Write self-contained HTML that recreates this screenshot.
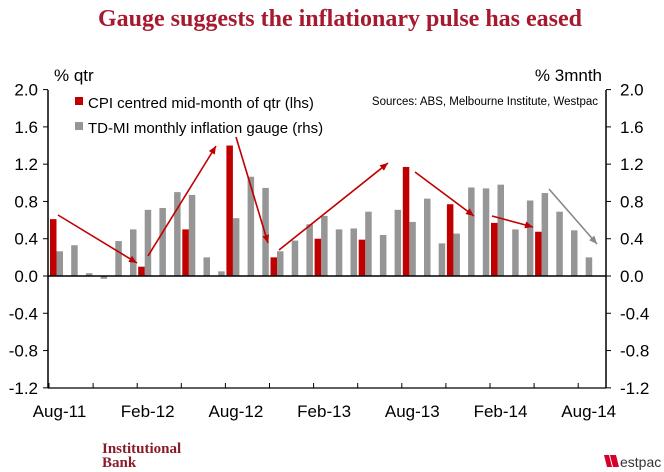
<!DOCTYPE html>
<html><head><meta charset="utf-8"><style>
body{margin:0;background:#fff;width:664px;height:472px;overflow:hidden}
svg{display:block;font-family:"Liberation Sans",sans-serif}
</style></head><body>
<svg id="chart" width="664" height="472">
<text x="340" y="26" text-anchor="middle" font-family="Liberation Serif" font-weight="bold" font-size="24" fill="#a6192e">Gauge suggests the inflationary pulse has eased</text>
<text x="54" y="81" font-size="17">% qtr</text>
<text x="602" y="81" font-size="17" text-anchor="end">% 3mnth</text>
<text x="598" y="105" font-size="11.5" text-anchor="end">Sources: ABS, Melbourne Institute, Westpac</text>
<rect x="75" y="97" width="8" height="8" fill="#c00000"/>
<text x="88" y="108" font-size="15">CPI centred mid-month of qtr (lhs)</text>
<rect x="75" y="122" width="8" height="8" fill="#969696"/>
<text x="88" y="133" font-size="15">TD-MI monthly inflation gauge (rhs)</text>
<g id="g"></g>
<text x="102" y="453" font-family="Liberation Serif" font-weight="bold" font-size="15" fill="#8b1a2b">Institutional</text>
<text x="102" y="467" font-family="Liberation Serif" font-weight="bold" font-size="15" fill="#8b1a2b">Bank</text>
<g><polygon points="604,455 609,455 612,467 607,467" fill="#d5002b"/><polygon points="610,455 616,455 619,467 613,467" fill="#d5002b"/><text x="620" y="467" font-size="14" fill="#333">estpac</text></g>
</svg>
<script>
const xLabels=["Aug-11","Feb-12","Aug-12","Feb-13","Aug-13","Feb-14","Aug-14"];
const ticks=[2.0,1.6,1.2,0.8,0.4,0.0,-0.4,-0.8,-1.2];
const cpiIdx=[0,6,9,12,15,18,21,24,27,30,33];
const cpiVals=[0.61,0.10,0.50,1.40,0.20,0.40,0.39,1.17,0.77,0.57,0.475];
const gauge=[0.265,0.33,0.03,-0.03,0.375,0.50,0.71,0.73,0.90,0.87,0.20,0.05,0.62,1.065,0.945,0.265,0.38,0.555,0.645,0.50,0.51,0.69,0.44,0.71,0.58,0.83,0.35,0.455,0.95,0.94,0.98,0.50,0.81,0.89,0.69,0.49,0.20];
const NS="http://www.w3.org/2000/svg",g=document.getElementById('g');
const X0=48.5,STEP=14.7,Y0=276,K=93.2;
const y=v=>Y0-v*K, xc=i=>X0+STEP*i;
function mk(t,a){const e=document.createElementNS(NS,t);for(const k in a)e.setAttribute(k,a[k]);g.appendChild(e);return e;}
gauge.forEach((v,i)=>{const e=mk('rect',{x:xc(i)+8,y:Math.min(y(v),Y0),width:6.5,height:Math.abs(y(v)-Y0),fill:'#969696'});

});
cpiIdx.forEach((ci,j)=>{const v=cpiVals[j];const e=mk('rect',{x:xc(ci)+1.5,y:Math.min(y(v),Y0),width:6.5,height:Math.abs(y(v)-Y0),fill:'#c00000'});

});
let a=mk('line',{x1:48,y1:90,x2:48,y2:388,stroke:'#000','stroke-width':1.5});


a=mk('line',{x1:606,y1:90,x2:606,y2:388,stroke:'#000','stroke-width':1.5});


a=mk('line',{x1:48,y1:Y0,x2:606,y2:Y0,stroke:'#000','stroke-width':1.5});


a=mk('line',{x1:48,y1:388,x2:606,y2:388,stroke:'#000','stroke-width':1.2});


for(let k=0;k<=12;k++){mk('line',{x1:xc(3*k)+0.5,y1:388,x2:xc(3*k)+0.5,y2:383,stroke:'#000'});}
ticks.forEach(t=>{mk('line',{x1:43,y1:y(t),x2:48,y2:y(t),stroke:'#000'});mk('line',{x1:606,y1:y(t),x2:611,y2:y(t),stroke:'#000'});
const l=mk('text',{x:38,y:y(t)+6,'text-anchor':'end','font-size':17});l.textContent=t.toFixed(1);


const r=mk('text',{x:620,y:y(t)+6,'font-size':17});r.textContent=t.toFixed(1);

});
xLabels.forEach((s,j)=>{const t=mk('text',{x:xc(j*6)+11,y:417,'text-anchor':'middle','font-size':17});t.textContent=s;

});
const arrows=[[58,215,137,263,'#c00000'],[148,256,216,146,'#c00000'],[236,137,268,243,'#c00000'],[279,250,388,163,'#c00000'],[415,172,474,216,'#c00000'],[492,216,533,227,'#c00000'],[549,189,597,244,'#888']];
arrows.forEach(([x1,y1,x2,y2,c])=>{const e=mk('line',{x1,y1,x2,y2,stroke:c,'stroke-width':1.6});


const ang=Math.atan2(y2-y1,x2-x1),L=8,W=3.5;
const bx=x2-L*Math.cos(ang),by=y2-L*Math.sin(ang);
mk('polygon',{points:`${x2},${y2} ${bx-W*Math.sin(ang)},${by+W*Math.cos(ang)} ${bx+W*Math.sin(ang)},${by-W*Math.cos(ang)}`,fill:c});});
</script>
</body></html>
